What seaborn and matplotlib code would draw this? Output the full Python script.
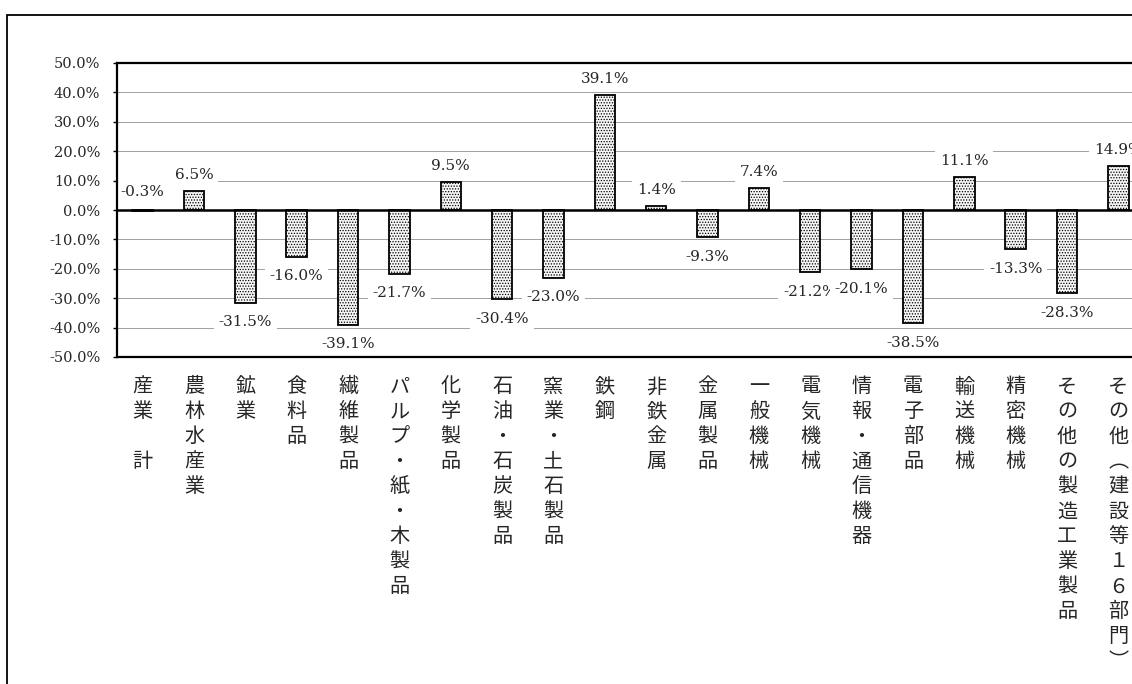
import numpy as np
import pandas as pd
import matplotlib
matplotlib.use("Agg")
import matplotlib.pyplot as plt
import seaborn as sns
from matplotlib.patches import Rectangle

# --- data ---
categories = ["産業　計", "農林水産業", "鉱業", "食料品", "繊維製品", "パルプ・紙・木製品",
              "化学製品", "石油・石炭製品", "窯業・土石製品", "鉄鋼", "非鉄金属", "金属製品",
              "一般機械", "電気機械", "情報・通信機器", "電子部品", "輸送機械", "精密機械",
              "その他の製造工業製品", "その他（建設等１６部門）"]
values = [-0.3, 6.5, -31.5, -16.0, -39.1, -21.7, 9.5, -30.4, -23.0, 39.1,
          1.4, -9.3, 7.4, -21.2, -20.1, -38.5, 11.1, -13.3, -28.3, 14.9]
yticks = [-50, -40, -30, -20, -10, 0, 10, 20, 30, 40, 50]

df = pd.DataFrame({"cat": categories, "val": values})

sns.set_theme(style="white")
plt.rcParams["font.family"] = ["DejaVu Serif", "Noto Sans CJK JP"]
plt.rcParams["hatch.color"] = "#707070"
plt.rcParams["hatch.linewidth"] = 0.6

W, H = 1132, 684
fig = plt.figure(figsize=(W / 100, H / 100), dpi=100)
ax = fig.add_axes([117 / W, (H - 357) / H, 20 * 51.35 / W, (357 - 63) / H])

sns.barplot(data=df, x="cat", y="val", color="white", width=0.4,
            edgecolor="black", linewidth=1.3, ax=ax, zorder=3)
for p in ax.patches:
    p.set_hatch("......")
    p.set_facecolor("#f6f6f6")

ax.set_xlim(-0.5, len(categories) - 0.5)
ax.set_ylim(-50, 50)
ax.set_yticks(yticks)
ax.set_yticklabels([f"{v:.1f}%" for v in yticks], fontsize=10.5)
ax.tick_params(axis="y", length=3, width=1, color="black", pad=9, left=True)

for y in yticks:
    if y in (-50, 50):
        continue
    if y == 0:
        ax.axhline(0, color="black", lw=1.8, zorder=4)
    else:
        ax.axhline(y, color="#a0a0a0", lw=0.7, zorder=1)

# vertical tick labels
vert_map = {"（": "︵", "）": "︶"}
vlabels = ["\n".join(vert_map.get(c, c) for c in name) for name in categories]
ax.set_xticks(range(len(categories)))
ax.set_xticklabels(vlabels, fontsize=14.5, linespacing=1.25, va="top",
                   family=["Noto Sans CJK JP"])
ax.tick_params(axis="x", length=0, pad=14)
ax.set_xlabel("")
ax.set_ylabel("")

for side in ["left", "top", "bottom"]:
    ax.spines[side].set_visible(True)
    ax.spines[side].set_color("black")
    ax.spines[side].set_linewidth(1.6)
    ax.spines[side].set_zorder(7)
ax.spines["right"].set_visible(False)

# data labels
for i, v in enumerate(values):
    if v > 0:
        anchor, off = v, 11.5
    elif v > -1:
        anchor, off = 0, 13
    else:
        anchor, off = v, -14
    ax.annotate(f"{v:.1f}%", xy=(i, anchor), xytext=(0, off),
                textcoords="offset points", ha="center", va="center",
                fontsize=11, zorder=5,
                bbox=dict(facecolor="white", edgecolor="none", pad=3.5))

# outer chart border (clipped by the image edges)
fig.patches.append(Rectangle((7 / W, -0.1), 2, (H - 15) / H + 0.1,
                             transform=fig.transFigure, fill=False,
                             edgecolor="black", lw=1.3))

fig.savefig("out.png", dpi=100)
